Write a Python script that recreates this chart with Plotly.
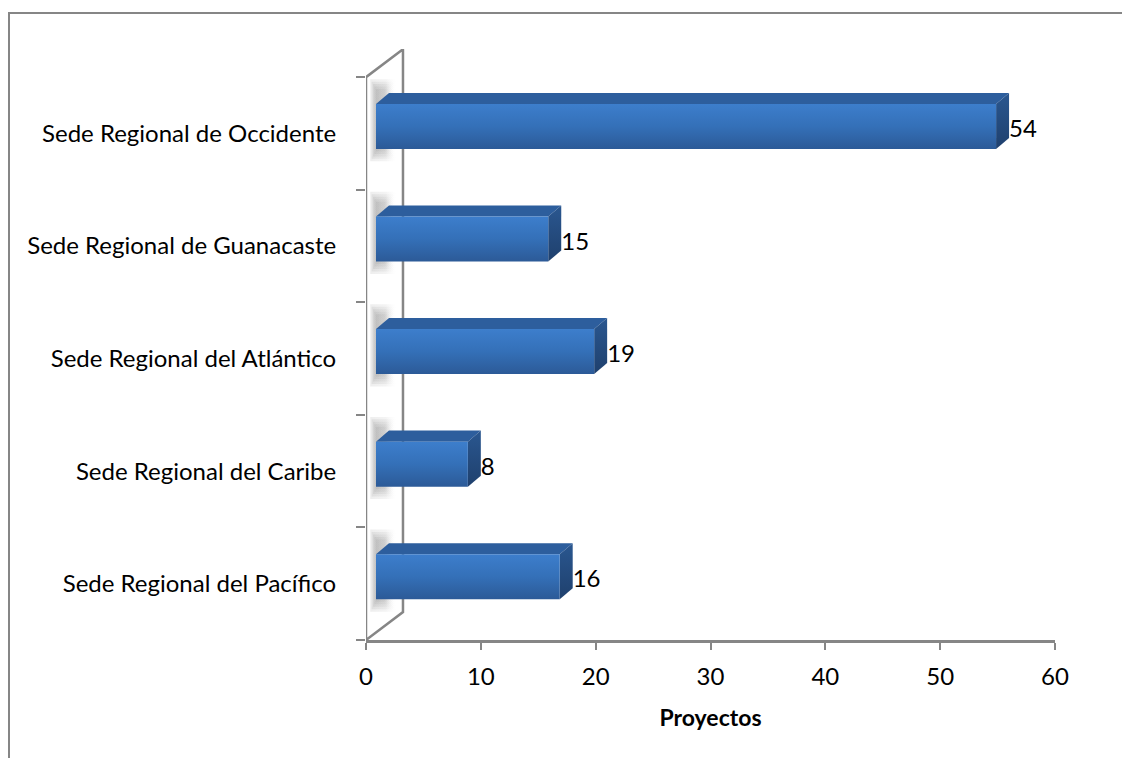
import plotly.graph_objects as go

# ---- data ----
categories = ["Sede Regional del Pacífico", "Sede Regional del Caribe",
              "Sede Regional del Atlántico", "Sede Regional de Guanacaste",
              "Sede Regional de Occidente"]
values = [16, 8, 19, 15, 54]
x_ticks = [0, 10, 20, 30, 40, 50, 60]
x_title = "Proyectos"

# ---- style constants ----
FONT = "Lato"
FS = 24
GREY = "#868686"
BAR_OFF = 0.87      # bars sit slightly deeper than axis zero (3D floor)
H = 0.2             # half-height of bar front face (category units)
YOFF = 0.062        # front face raised above band centre
DX = 1.13           # depth offset (x units)
DY = 0.098          # depth offset (y units)
WALL_DX = 3.22
WALL_DY = 0.248
n = len(categories)

fig = go.Figure()

# left wall outline
fig.add_trace(go.Scatter(
    x=[0, 0, WALL_DX, WALL_DX, 0], y=[-0.5, n - 0.5, n - 0.5 + WALL_DY, -0.5 + WALL_DY, -0.5],
    mode="lines", line=dict(color=GREY, width=2.5),
    hoverinfo="skip", showlegend=False))

for i, v in enumerate(values):
    b = i + YOFF - H
    t = i + YOFF + H
    # soft (layered) shadow on the wall
    for k in range(5):
        sx = 0.12 * k
        sy = 0.022 * k
        x0, x1 = -0.5 + sx, 1.75 - sx
        y0, y1 = b - 0.11 + sy, t + 0.22 - sy
        fig.add_trace(go.Scatter(
            x=[x0, x0, x1, x1, x0], y=[y0, y1, y1, y0, y0],
            xaxis="x2", yaxis="y", mode="lines", line=dict(width=0), fill="toself",
            fillgradient=dict(type="horizontal", colorscale=[[0, "rgba(120,120,120,0.13)"], [0.6, "rgba(140,140,140,0.1)"], [1, "rgba(200,200,200,0.0)"]]),
            hoverinfo="skip", showlegend=False))
    # top face
    fig.add_trace(go.Scatter(
        x=[0, DX, v + DX, v, 0], y=[t, t + DY, t + DY, t, t],
        xaxis="x2", yaxis="y", mode="lines", line=dict(width=0), fill="toself",
        fillcolor="#2d5e9d", hoverinfo="skip", showlegend=False))
    # side face
    fig.add_trace(go.Scatter(
        x=[v, v, v + DX, v + DX, v], y=[b, t, t + DY, b + DY, b],
        xaxis="x2", yaxis="y", mode="lines", line=dict(width=0), fill="toself",
        fillgradient=dict(type="vertical", colorscale=[[0, "#1f406d"], [1, "#2a5790"]]),
        hoverinfo="skip", showlegend=False))
    # front face
    fig.add_trace(go.Scatter(
        x=[0, 0, v, v, 0], y=[b, t, t, b, b],
        xaxis="x2", yaxis="y", mode="lines", line=dict(width=0), fill="toself",
        fillgradient=dict(type="vertical", colorscale=[[0, "#2c5a97"], [0.5, "#3470b8"], [1, "#3d7ecc"]]),
        hoverinfo="skip", showlegend=False))

# data labels
fig.add_trace(go.Scatter(
    x=[v + DX for v in values], y=[i + 0.02 for i in range(n)],
    xaxis="x2", yaxis="y", mode="text", text=[str(v) for v in values],
    textposition="middle right", textfont=dict(family=FONT, size=FS, color="black"),
    cliponaxis=False, hoverinfo="skip", showlegend=False))

fig.update_layout(
    width=1122, height=750, autosize=False,
    margin=dict(l=358, r=75, t=41, b=118),
    paper_bgcolor="white", plot_bgcolor="white",
    font=dict(family=FONT, size=FS, color="black"),
    xaxis=dict(range=[0, 60], tickvals=x_ticks, showline=True, linecolor=GREY, linewidth=2.5,
               ticks="outside", ticklen=7, tickcolor=GREY, tickwidth=2, showgrid=False, zeroline=False,
               ticklabelstandoff=6,
               title=dict(text="<b>" + x_title + "</b>", standoff=22, font=dict(size=FS - 1)),
               tickfont=dict(size=FS)),
    xaxis2=dict(range=[-BAR_OFF, 60 - BAR_OFF], overlaying="x", visible=False),
    yaxis=dict(range=[-0.5, n - 0.5 + 0.25], tickvals=list(range(n)), ticktext=categories,
               showline=False, showgrid=False, zeroline=False, ticks="outside", ticklen=24,
               tickcolor="rgba(0,0,0,0)", tickfont=dict(size=FS),
               minor=dict(tickvals=[k - 0.5 for k in range(n + 1)], ticks="outside", ticklen=9,
                          tickcolor=GREY, tickwidth=2, showgrid=False)),
    shapes=[dict(type="rect", xref="paper", yref="paper",
                 x0=(1 - 358) / 689, x1=1.2, y0=-0.3, y1=(632 - 5) / 591,
                 line=dict(color=GREY, width=2), fillcolor="rgba(0,0,0,0)", layer="below")],
)

fig.write_html("out.html")
